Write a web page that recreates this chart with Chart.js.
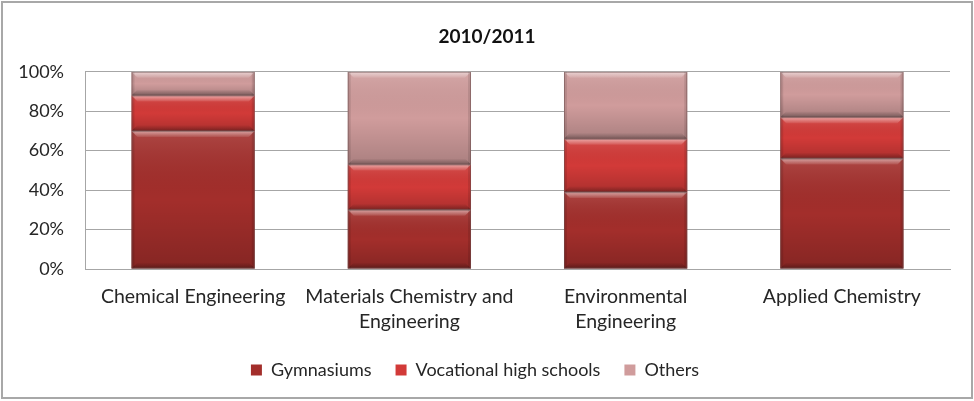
<!DOCTYPE html>
<html>
<head>
<meta charset="utf-8">
<script src="https://cdn.jsdelivr.net/npm/chart.js@4.4.1/dist/chart.umd.min.js"></script>
<style>
  html, body { margin: 0; padding: 0; background: #fff; }
  #wrap { width: 974px; height: 401px; position: relative; }
</style>
</head>
<body>
<div id="wrap"><canvas id="intakeChart"></canvas></div>
<script>
// Student intake by school type, 2010/2011 (percent of each programme)
var programmes = [
    'Chemical Engineering',
    ['Materials Chemistry and', 'Engineering'],
    ['Environmental', 'Engineering'],
    'Applied Chemistry'
];
var gymnasiums = [70, 30, 39, 56];
var vocational = [18, 23, 27, 21];
var others = [12, 47, 34, 23];
var yTicks = [0, 20, 40, 60, 80, 100];

var colors = {
    gym: '#a32e2b',
    voc: '#d23a38',
    other: '#d09c9c',
    grid: '#a6a6a6',
    text: '#262626'
};

// Outer frame around the whole chart
var framePlugin = {
    id: 'frame',
    beforeDraw: function(chart) {
        var ctx = chart.ctx;
        ctx.save();
        ctx.fillStyle = '#fff';
        ctx.fillRect(0, 0, chart.width, chart.height);
        ctx.strokeStyle = '#a8a8a8';
        ctx.lineWidth = 2;
        ctx.strokeRect(2, 2, 970, 396);
        ctx.restore();
    }
};

// Title sits centred on the full frame rather than the padded box
var titleShift = {
    id: 'titleShift',
    afterLayout: function(chart) {
        var t = chart.titleBlock;
        if (t) { t.left += 12; t.right += 12; }
    }
};

// Bevelled look on each bar segment
var bevelPlugin = {
    id: 'bevel',
    afterDatasetsDraw: function(chart) {
        var ctx = chart.ctx;
        chart.data.datasets.forEach(function(ds, i) {
            var meta = chart.getDatasetMeta(i);
            meta.data.forEach(function(bar) {
                var left = bar.x - bar.width / 2;
                var top = Math.min(bar.y, bar.base);
                var h = Math.abs(bar.base - bar.y);
                var w = bar.width;
                if (h < 1) return;
                ctx.save();
                // body shading: lighter near the top, darker at the bottom
                var g = ctx.createLinearGradient(0, top, 0, top + h);
                g.addColorStop(0, 'rgba(255,255,255,0.12)');
                g.addColorStop(0.5, 'rgba(0,0,0,0)');
                g.addColorStop(1, 'rgba(0,0,0,0.18)');
                ctx.fillStyle = g;
                ctx.fillRect(left, top, w, h);
                // top highlight strip with slanted ends
                var s = Math.min(6, h / 3);
                var hg = ctx.createLinearGradient(0, top, 0, top + s);
                hg.addColorStop(0, 'rgba(255,255,255,0.5)');
                hg.addColorStop(1, 'rgba(255,255,255,0.08)');
                ctx.fillStyle = hg;
                ctx.beginPath();
                ctx.moveTo(left, top);
                ctx.lineTo(left + w, top);
                ctx.lineTo(left + w - s, top + s);
                ctx.lineTo(left + s, top + s);
                ctx.closePath();
                ctx.fill();
                // bottom dark strip
                var bg = ctx.createLinearGradient(0, top + h - s, 0, top + h);
                bg.addColorStop(0, 'rgba(0,0,0,0)');
                bg.addColorStop(1, 'rgba(0,0,0,0.3)');
                ctx.fillStyle = bg;
                ctx.beginPath();
                ctx.moveTo(left + s, top + h - s);
                ctx.lineTo(left + w - s, top + h - s);
                ctx.lineTo(left + w, top + h);
                ctx.lineTo(left, top + h);
                ctx.closePath();
                ctx.fill();
                // side edges
                ctx.fillStyle = 'rgba(0,0,0,0.10)';
                ctx.fillRect(left, top, 3, h);
                ctx.fillRect(left + w - 3, top, 3, h);
                // outline
                ctx.strokeStyle = 'rgba(110,80,80,0.55)';
                ctx.lineWidth = 1;
                ctx.strokeRect(left + 0.5, top + 0.5, w - 1, h - 1);
                ctx.restore();
            });
        });
    }
};

Chart.defaults.font.family = 'Lato, sans-serif';
Chart.defaults.color = colors.text;

new Chart(document.getElementById('intakeChart'), {
    type: 'bar',
    data: {
        labels: programmes,
        datasets: [
            { label: 'Gymnasiums', data: gymnasiums, backgroundColor: colors.gym },
            { label: 'Vocational high schools', data: vocational, backgroundColor: colors.voc },
            { label: 'Others', data: others, backgroundColor: colors.other }
        ]
    },
    options: {
        responsive: true,
        maintainAspectRatio: false,
        animation: false,
        layout: { padding: { left: 0, right: 24, top: 0, bottom: 12 } },
        datasets: { bar: { categoryPercentage: 1, barPercentage: 0.57, borderWidth: 0 } },
        plugins: {
            title: {
                display: true,
                text: '2010/2011',
                font: { size: 19, weight: 'bold' },
                color: '#111',
                padding: { top: 25, bottom: 24 }
            },
            legend: {
                position: 'bottom',
                labels: {
                    boxWidth: 11,
                    boxHeight: 11,
                    padding: 24,
                    font: { size: 18 },
                    color: colors.text
                }
            },
            tooltip: { enabled: false }
        },
        scales: {
            x: {
                stacked: true,
                grid: { display: false, drawTicks: false },
                border: { color: colors.grid, width: 1 },
                ticks: { maxRotation: 0, autoSkip: false, padding: 15, font: { size: 19.5, lineHeight: 1.28 } },
                afterFit: function(scale) { scale.height = 68; }
            },
            y: {
                stacked: true,
                min: 0,
                max: 100,
                afterBuildTicks: function(scale) {
                    scale.ticks = yTicks.map(function(v) { return { value: v }; });
                },
                grid: { color: colors.grid, drawTicks: false },
                border: { color: colors.grid, width: 1 },
                ticks: {
                    padding: 21,
                    font: { size: 18 },
                    callback: function(v) { return v + '%'; }
                },
                afterFit: function(scale) { scale.width = 85; }
            }
        }
    },
    plugins: [framePlugin, titleShift, bevelPlugin]
});
</script>
</body>
</html>
